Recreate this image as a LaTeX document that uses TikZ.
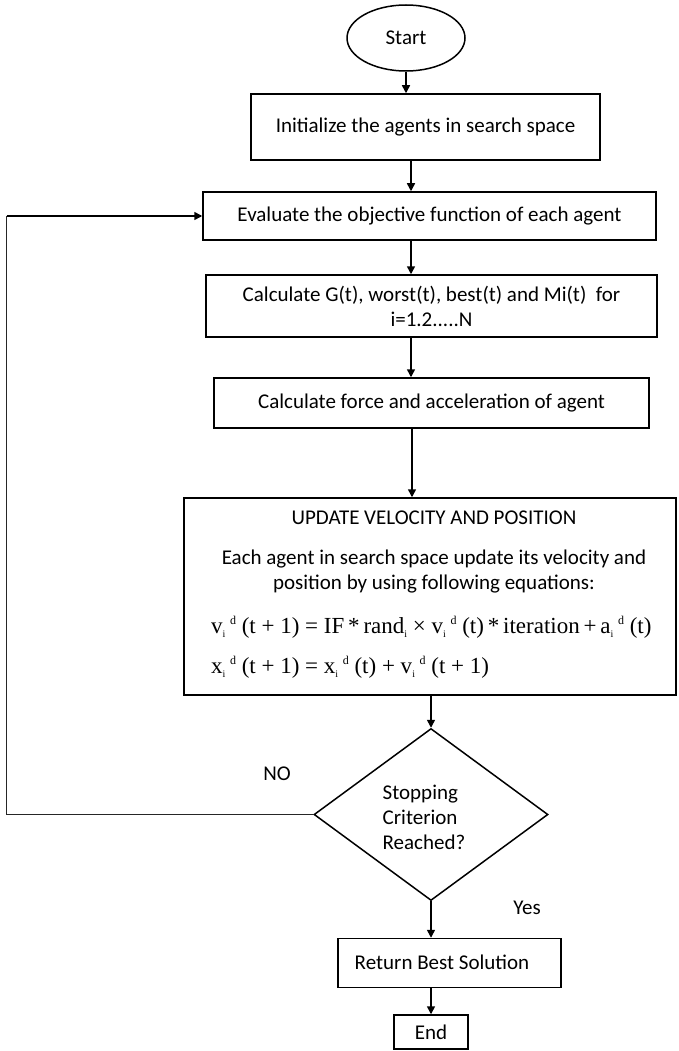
\documentclass[tikz,border=0pt]{standalone}
\usepackage{fontspec}
\setmainfont{Carlito}
\newfontfamily\eqfont{Liberation Serif}
\usetikzlibrary{shapes.geometric,arrows.meta}
% variable with subscript i and superscript d
\newcommand\vsd[1]{#1\rlap{\raisebox{-0.45ex}{\fontsize{10}{10}\selectfont i}}\hspace{0.32em}\raisebox{0.85ex}{\fontsize{12}{12}\selectfont d}}
\newcommand\vsub[1]{#1\raisebox{-0.45ex}{\fontsize{10}{10}\selectfont i}}
\tikzset{
  flowbox/.style={draw, line width=1.5pt, rectangle, align=center, inner sep=0pt},
  txt/.style={font=\fontsize{21}{25}\selectfont},
  eqtxt/.style={anchor=west, inner sep=0pt, font=\eqfont\fontsize{23}{27}\selectfont},
  arr/.style={line width=1.5pt, -{Triangle[length=8pt,width=8pt]}},
  back/.style={line width=1pt, black!85},
}
\begin{document}
\begin{tikzpicture}[x=1pt,y=-1pt]
\useasboundingbox (0,0) rectangle (679,1051);
% process steps
\node[draw, line width=1.5pt, ellipse, minimum width=118pt, minimum height=66pt, inner sep=0pt, txt] (start) at (406,38) {Start};
\node[flowbox, txt, minimum width=349pt, minimum height=66pt] (init) at (425.5,127) {Initialize the agents in search space};
\node[flowbox, txt, minimum width=453pt, minimum height=48pt] (eval) at (429.5,216) {Evaluate the objective function of each agent};
\node[flowbox, txt, minimum width=451pt, minimum height=62pt] (calc) at (431.5,306) {Calculate G(t), worst(t), best(t) and Mi(t)\ \ for\\i=1.2.....N};
\node[flowbox, txt, minimum width=435pt, minimum height=50pt] (force) at (431.5,403) {Calculate force and acceleration of agent};
\node[flowbox, minimum width=492pt, minimum height=197pt] (update) at (430,596.5) {};
\node[txt] (uphead) at (434,518) {UPDATE VELOCITY AND POSITION};
\node[txt, align=center] (upbody) at (434,572) {Each agent in search space update its velocity and\\position by using following equations:};
\node[eqtxt] (eqv) at (211,627)
  {\vsd{v} (t + 1) = IF\,*\,\vsub{rand} \texttimes\ \vsd{v} (t)\,*\,iteration\,+\,\vsd{a} (t)};
\node[eqtxt] (eqx) at (211,667)
  {\vsd{x} (t + 1) = \vsd{x} (t) + \vsd{v} (t + 1)};
% decision
\node[draw, line width=1.5pt, diamond, aspect=1.36, minimum width=234pt, minimum height=172pt, inner sep=0pt] (stop) at (431,814.5) {};
\node[txt, align=left] (stoptxt) at (424,817) {Stopping\\Criterion\\Reached?};
\node[flowbox, minimum width=223pt, minimum height=49pt] (ret) at (449.5,963) {};
\node[txt] (rettxt) at (442,962) {Return Best Solution};
\node[flowbox, txt, minimum width=74pt, minimum height=34pt] (end) at (431,1032) {End};
\node[txt] (no) at (277,774) {NO};
\node[txt] (yes) at (527,908) {Yes};
% connector columns
\coordinate (upx) at (411,0);
\coordinate (midx) at (412,0);
\coordinate (lowx) at (431,0);
\coordinate (loop) at (6.5,0);
\draw[arr] (start.south) -- (start.south |- init.north);
\draw[arr] (init.south -| upx) -- (eval.north -| upx);
\draw[arr] (eval.south -| upx) -- (calc.north -| upx);
\draw[arr] (calc.south -| upx) -- (force.north -| upx);
\draw[arr] (force.south -| midx) -- (update.north -| midx);
\draw[arr] (update.south -| lowx) -- (stop.north);
\draw[arr] (stop.south) -- (ret.north -| lowx);
\draw[arr] (ret.south -| lowx) -- (end.north -| lowx);
% loop back when the criterion is not reached
\draw[back] (stop.west) -- (stop.west -| loop) -- (eval.west -| loop);
\draw[arr] (eval.west -| loop) -- (eval.west);
\end{tikzpicture}
\end{document}
